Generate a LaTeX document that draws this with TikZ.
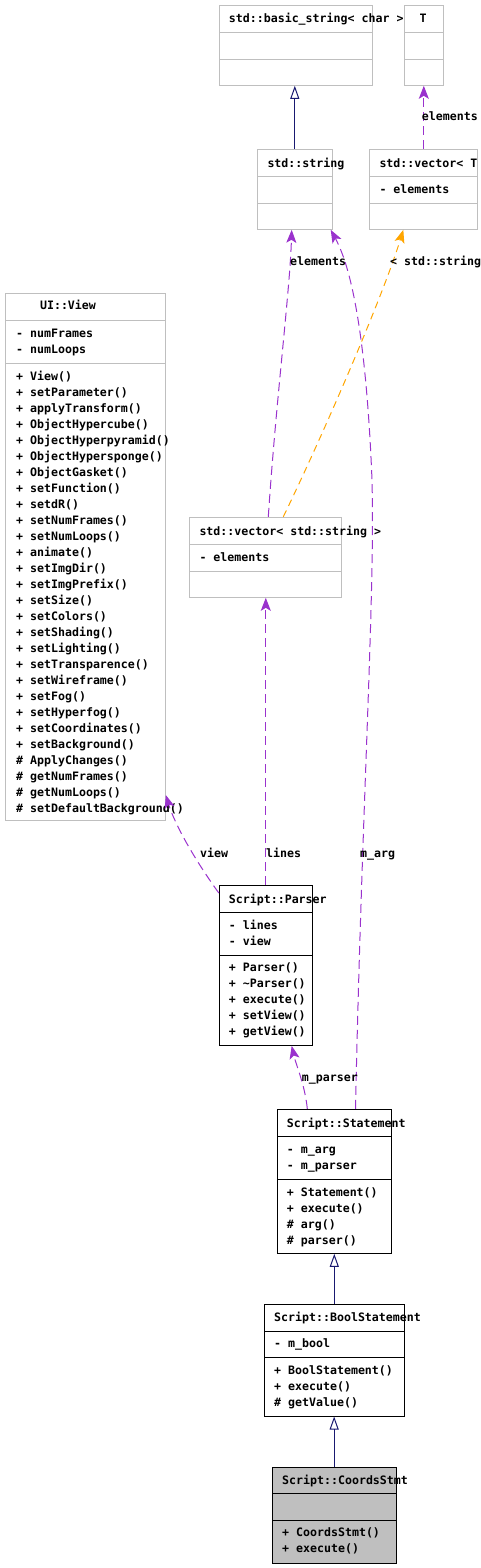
\documentclass[tikz,border=0pt]{standalone}
\usepackage{fontspec}
\setmonofont{DejaVu Sans Mono}
\usetikzlibrary{arrows.meta,fit}
\definecolor{boxgray}{HTML}{BFBFBF}
\definecolor{purp}{HTML}{9A32CD}
\definecolor{orng}{HTML}{FFA500}
\definecolor{navyc}{HTML}{191970}
\newcommand{\dxf}{\ttfamily\bfseries\fontsize{11.6}{14}\selectfont}
\tikzset{
  txt/.style={font=\dxf, anchor=base west, inner sep=0pt, text=black},
  graybox/.style={draw=boxgray, line width=1pt, inner sep=0pt},
  blackbox/.style={draw=black, line width=1pt, inner sep=0pt},
  greyfill/.style={draw=black, fill=boxgray, line width=1pt, inner sep=0pt},
  inherit/.style={draw=navyc, line width=1pt, -{Triangle[open, length=13pt, width=9pt]}},
  uses/.style={draw=purp, line width=1pt, dash pattern=on 9pt off 5pt, -{Stealth[length=13pt, width=10pt, inset=3pt]}},
  tmpl/.style={draw=orng, line width=1pt, dash pattern=on 7pt off 5pt, -{Stealth[length=13pt, width=10pt, inset=3pt]}},
}
% name, style, x1, y1, x2, y2, divider1, divider2
\newcommand{\umlclass}[8]{%
  \node[#2, fit={(#3,#4) (#5,#6)}] (#1) {};
  \draw[#2] (#3,#7) -- (#5,#7) (#3,#8) -- (#5,#8);
}
% prefix, x, first baseline, list
\newcommand{\umltext}[4]{%
  \foreach \t [count=\i] in {#4} {\node[txt] (#1\i) at (#2, {#3+16*(\i-1)}) {\t};}
}
\begin{document}
\begin{tikzpicture}[x=1pt, y=-1pt]
\useasboundingbox (0,0) rectangle (481,1568);

% classes
\umlclass{bstr}{graybox}{219.3}{5.3}{372.3}{85.3}{32.3}{59.7}
\node[txt] (bstrt) at (228.7,23) {std::basic\_string< char >};

\umlclass{tcls}{graybox}{404.3}{5.3}{443.3}{85.3}{32.3}{59.7}
\node[txt] (tclst) at (419.5,23) {T};

\umlclass{strg}{graybox}{257.3}{149.3}{332.3}{229.3}{176.3}{203.3}
\node[txt] (strgt) at (267.3,167.3) {std::string};

\umlclass{vect}{graybox}{369.3}{149.3}{477.3}{229.3}{176.3}{203.3}
\node[txt] (vectt) at (379.3,167.3) {std::vector< T};
\node[txt] (vectm) at (379.3,193) {- elements};

\umlclass{view}{graybox}{5.3}{293.3}{165.3}{820}{320.7}{363.7}
\node[txt, anchor=base] (viewt) at (68,309.7) {UI::View};
\umltext{viewm}{16}{337.3}{- numFrames, - numLoops}
\umltext{viewf}{16}{380}{+ View(), + setParameter(), + applyTransform(), + ObjectHypercube(), + ObjectHyperpyramid(), + ObjectHypersponge(), + ObjectGasket(), + setFunction(), + setdR(), + setNumFrames(), + setNumLoops(), + animate(), + setImgDir(), + setImgPrefix(), + setSize(), + setColors(), + setShading(), + setLighting(), + setTransparence(), + setWireframe(), + setFog(), + setHyperfog(), + setCoordinates(), + setBackground(), \# ApplyChanges(), \# getNumFrames(), \# getNumLoops(), \# setDefaultBackground()}

\umlclass{vecs}{graybox}{189.3}{517.3}{341.3}{597.3}{544}{571}
\node[txt] (vecst) at (199.3,535) {std::vector< std::string >};
\node[txt] (vecsm) at (199.3,561) {- elements};

\umlclass{pars}{blackbox}{219.3}{885.3}{312.3}{1045.3}{912.3}{955}
\node[txt] (parst) at (228.7,903) {Script::Parser};
\umltext{parsm}{228.7}{929}{- lines, - view}
\umltext{parsf}{228.7}{971.7}{+ Parser(), + \textasciitilde Parser(), + execute(), + setView(), + getView()}

\umlclass{stmt}{blackbox}{277.3}{1109.3}{391.7}{1253.3}{1136.3}{1179}
\node[txt] (stmtt) at (286.7,1127) {Script::Statement};
\umltext{stmtm}{286.7}{1153.3}{- m\_arg, - m\_parser}
\umltext{stmtf}{286.7}{1196}{+ Statement(), + execute(), \# arg(), \# parser()}

\umlclass{bool}{blackbox}{264.3}{1304.3}{404.3}{1416}{1331}{1357.3}
\node[txt] (boolt) at (274,1321) {Script::BoolStatement};
\node[txt] (boolm) at (274,1347.3) {- m\_bool};
\umltext{boolf}{274}{1374}{+ BoolStatement(), + execute(), \# getValue()}

\umlclass{crds}{greyfill}{272.3}{1467.3}{396}{1563.3}{1493.3}{1520.3}
\node[txt] (crdst) at (282,1484) {Script::CoordsStmt};
\umltext{crdsf}{282}{1536.7}{+ CoordsStmt(), + execute()}

% inheritance
\draw[inherit] (strg.north) -- (strg.north |- bstr.south);
\draw[inherit] (bool.north) -- (bool.north |- stmt.south);
\draw[inherit] (crds.north) -- (crds.north |- bool.south);

% usage
\draw[uses] (tcls.south |- vect.north) -- (tcls.south);
\node[txt] (lbl1) at (421.7,121) {elements};

\draw[uses] (vecs.north -| 268.3,0) .. controls (276,400) and (290,290) .. (strg.south -| 291.7,0);
\node[txt] (lbl2) at (290,265) {elements};

\draw[tmpl] (vecs.north -| 283.3,0) .. controls (330,420) and (385,290) .. (vect.south -| 403.3,0);
\node[txt] (lbl3) at (390,265) {< std::string};

\draw[uses] (stmt.north -| 355.5,0) .. controls (362,800) and (375,600) .. (372,480) .. controls (368,380) and (358,280) .. (strg.south -| 330.7,0);
\node[txt] (lbl4) at (360,857) {m\_arg};

\draw[uses] (pars.north) -- (pars.north |- vecs.south);
\node[txt] (lbl5) at (266,857) {lines};

\draw[uses] (pars.west |- 0,893) .. controls (195,860) and (175,825) .. (view.east |- 0,795);
\node[txt] (lbl6) at (200,857) {view};

\draw[uses] (stmt.north -| 307.3,0) .. controls (305,1085) and (296,1065) .. (pars.south -| 291.7,0);
\node[txt] (lbl7) at (301.7,1081.3) {m\_parser};
\end{tikzpicture}
\end{document}
